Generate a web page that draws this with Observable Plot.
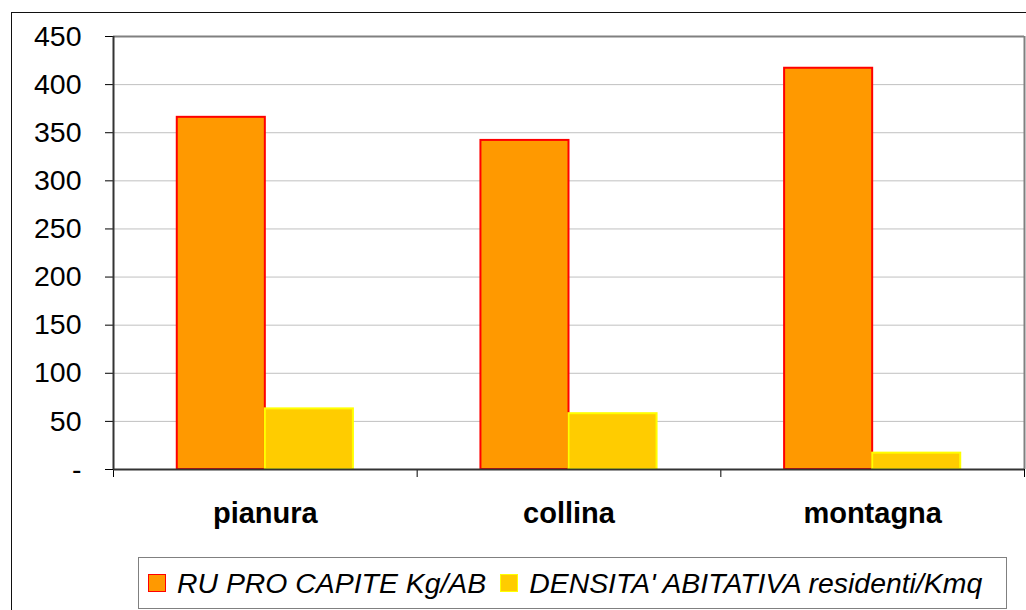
<!DOCTYPE html>
<html>
<head>
<meta charset="utf-8">
<script src="https://cdn.jsdelivr.net/npm/d3@7"></script>
<script src="https://cdn.jsdelivr.net/npm/@observablehq/plot@0.6"></script>
<style>
  html, body { margin: 0; padding: 0; width: 1026px; height: 610px; overflow: hidden; background: #fff; }
  #wrap { position: relative; width: 1026px; height: 610px; font-family: "Liberation Sans", Arial, sans-serif; }
  #outer { position: absolute; left: 11px; top: 12px; width: 1100px; height: 700px; border-left: 1.5px solid #111; border-top: 1.5px solid #111; }
  #chart { position: absolute; left: 0; top: 0; }
  #legend { position: absolute; left: 138px; top: 557px; width: 867px; height: 50px; border: 1.5px solid #808080; display: flex; align-items: center; box-sizing: content-box; background: #fff; }
  .item { display: flex; align-items: center; font-style: italic; font-size: 28.4px; color: #000; white-space: nowrap; }
  .sw { width: 16px; height: 16px; margin-right: 11px; }
</style>
</head>
<body>
<div id="wrap">
  <div id="outer"></div>
  <div id="chart"></div>
  <div id="legend"></div>
</div>
<script>
const categories = ["pianura", "collina", "montagna"];
const seriesNames = ["RU PRO CAPITE Kg/AB", "DENSITA' ABITATIVA residenti/Kmq"];
const ruProCapite = [366, 342, 417];
const densitaAbitativa = [63, 58, 17];
const yTicks = [0, 50, 100, 150, 200, 250, 300, 350, 400, 450];

const fills = ["#FF9900", "#FFCC00"];
const strokes = ["#FF0000", "#FFFF00"];

const seriesValues = [ruProCapite, densitaAbitativa];
const rows = [];
categories.forEach((cat, i) => {
  seriesValues.forEach((vals, k) => {
    rows.push({cat, i, k, series: seriesNames[k], value: vals[i]});
  });
});
// group layout within each category slot (band fraction)
const groupStart = 0.21, barFrac = 0.29;

const chart = Plot.plot({
  width: 1026,
  height: 545,
  marginLeft: 113,
  marginTop: 36,
  marginRight: 2,
  marginBottom: 76,
  style: {fontFamily: "'Liberation Sans', Arial, sans-serif", fontSize: "28.5px", color: "#000", background: "transparent"},
  x: {domain: [0, categories.length], ticks: [0, 1, 2, 3], tickSize: 8, tickFormat: () => "", label: null},
  y: {domain: [0, 450], ticks: yTicks, tickSize: 8, tickPadding: 24, tickFormat: d => d === 0 ? "-" : String(d), label: null},
  marks: [
    Plot.ruleY(yTicks.filter(t => t > 0 && t < 450), {stroke: "#c0c0c0", strokeWidth: 1}),
    Plot.ruleY([450], {stroke: "#808080", strokeWidth: 2}),
    Plot.ruleX([categories.length], {stroke: "#808080", strokeWidth: 2}),
    Plot.rect(rows, {
      x1: d => d.i + groupStart + d.k * barFrac,
      x2: d => d.i + groupStart + (d.k + 1) * barFrac,
      y1: 0,
      y2: "value",
      fill: d => fills[d.k],
      stroke: d => strokes[d.k],
      strokeWidth: 2
    }),
    Plot.ruleX([0], {stroke: "#333", strokeWidth: 2}),
    Plot.ruleY([0], {stroke: "#333", strokeWidth: 2}),
    Plot.text(categories, {
      x: (d, i) => i + 0.5,
      y: () => 0,
      text: d => d,
      dy: 44,
      fontWeight: "bold",
      fontSize: 29,
      fill: "#000"
    })
  ]
});
document.getElementById("chart").appendChild(chart);

const legend = document.getElementById("legend");
seriesNames.forEach((name, k) => {
  const item = document.createElement("div");
  item.className = "item";
  item.style.marginLeft = k === 0 ? "9px" : "14px";
  const sw = document.createElement("div");
  sw.className = "sw";
  sw.style.background = fills[k];
  sw.style.border = "1.5px solid " + strokes[k];
  item.appendChild(sw);
  const t = document.createElement("span");
  t.textContent = name;
  item.appendChild(t);
  legend.appendChild(item);
});
</script>
</body>
</html>
